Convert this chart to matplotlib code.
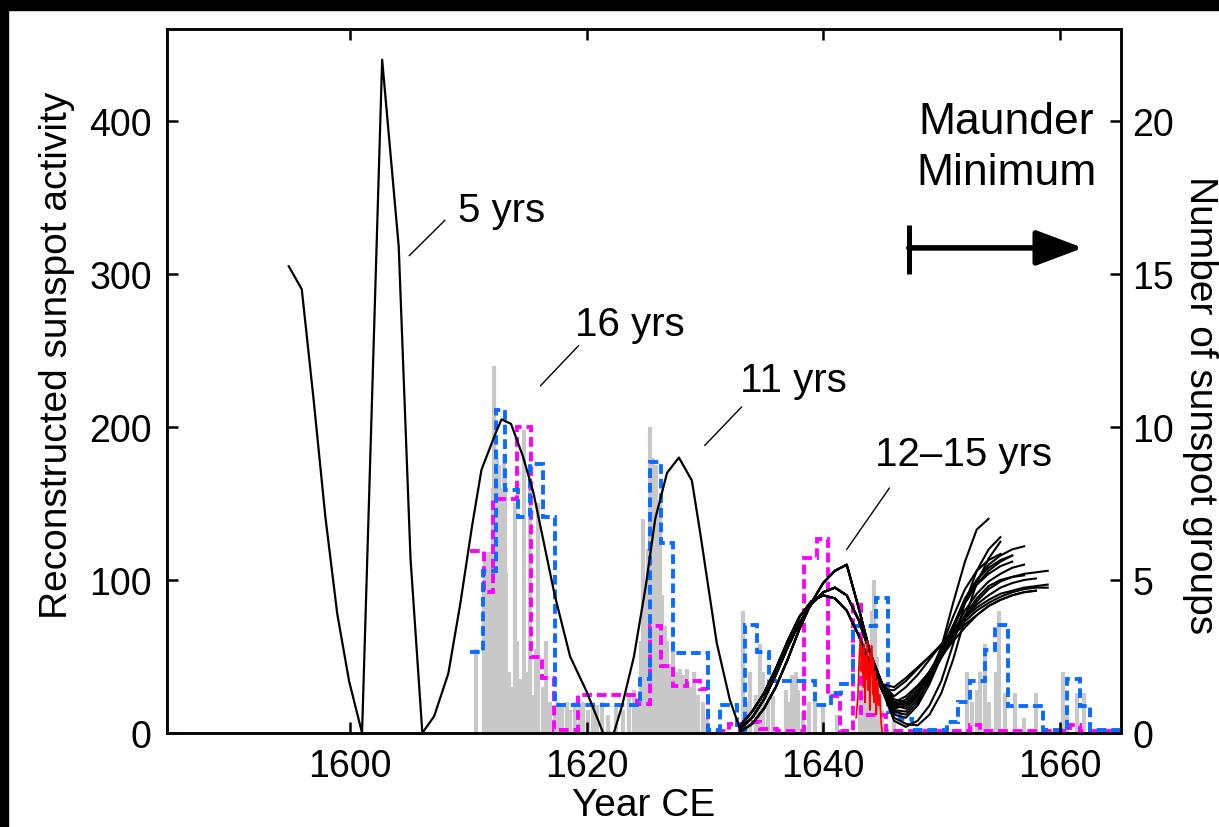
import numpy as np
import matplotlib.pyplot as plt
from matplotlib.patches import Rectangle

plt.rcParams['font.family'] = ['Liberation Sans', 'DejaVu Sans']

# reconstructed sunspot activity (single curve up to 1633)
rec_years = [1594.8, 1595.9, 1596.9, 1597.9, 1598.9, 1599.9, 1601.0, 1602.7, 1604.1,
             1605.1, 1606.1, 1607.1, 1608.3, 1609.3, 1610.3, 1611.1, 1612.3, 1612.8,
             1613.6, 1614.6, 1615.5, 1617.3, 1618.6, 1620.0, 1621.4, 1622.3, 1623.0,
             1624.0, 1625.0, 1625.8, 1626.8, 1627.8, 1628.9, 1629.6, 1631.0, 1632.1, 1633.0]
rec_vals = [305, 290, 218, 141, 78, 34, 0, 440, 318,
            114, 0, 11, 39, 84, 135, 172, 196, 205,
            202, 181, 157, 90, 50, 27, 0, 0, 18,
            50, 96, 140, 170, 180, 165, 131, 59, 22, 2]

# ensemble of reconstructions from 1633 (yearly values)
rise_a = [1, 6, 16, 30, 48, 68, 85, 98, 106, 110, 82, 52, 28]
rise_b = [3, 10, 22, 38, 56, 72, 84, 92, 95, 90, 74, 52, 32]
rise_c = [5, 14, 26, 42, 60, 76, 86, 90, 88, 80, 64, 45, 28]
ens_rise = [rise_a, rise_a, rise_b, rise_b, rise_c, rise_b, rise_c, rise_b,
            rise_c, rise_a, rise_b, rise_c, rise_a, rise_b, rise_c, rise_a]
ens_tail = [
    [14, 12, 20, 36, 56, 85, 112, 133, 140],
    [10, 6, 5, 12, 26, 48, 75, 98, 114, 125],
    [18, 16, 24, 38, 56, 76, 94, 106, 113, 117],
    [20, 18, 25, 38, 54, 70, 85, 97, 104, 109, 112],
    [16, 18, 26, 38, 52, 66, 80, 91, 99, 104, 108, 110],
    [22, 20, 26, 36, 49, 62, 75, 86, 94, 99, 102, 104, 105, 106],
    [18, 22, 30, 40, 52, 64, 75, 84, 90, 95, 98, 100, 101],
    [24, 30, 38, 48, 58, 67, 75, 82, 87, 91, 93, 95, 96, 97],
    [20, 24, 31, 40, 50, 60, 69, 77, 83, 87, 90, 92, 93],
    [12, 10, 18, 32, 50, 70, 88, 100, 108, 113, 116],
    [19, 19, 26, 37, 50, 64, 77, 88, 96, 100, 102, 103],
    [28, 34, 42, 50, 58, 66, 73, 80, 85, 89, 92, 94, 95, 95],
    [15, 14, 22, 34, 50, 68, 86, 100, 110, 116, 120, 122],
    [30, 36, 43, 50, 57, 64, 71, 77, 83, 87, 90, 92, 93],
    [17, 20, 28, 40, 54, 70, 85, 97, 106, 112, 116],
    [8, 4, 8, 18, 34, 58, 85, 106, 120, 128],
]

# telescopic record, 1643-1645
red_years = [1642.8, 1642.95, 1643.05, 1643.15, 1643.25, 1643.3, 1643.4, 1643.45, 1643.5,
             1643.55, 1643.6, 1643.7, 1643.75, 1643.8, 1643.9, 1643.95, 1644.0, 1644.05,
             1644.1, 1644.2, 1644.25, 1644.3, 1644.4, 1644.45, 1644.5, 1644.6, 1644.7,
             1644.8, 1644.9, 1645.0]
red_vals = [10, 25, 48, 62, 40, 55, 30, 58, 45, 20, 50, 35, 60, 28, 45, 15, 52, 38,
            57, 25, 48, 20, 40, 30, 12, 35, 18, 25, 8, 0]

# daily group counts (grey)
gray_years = [1610.6, 1611.3, 1611.4, 1611.5, 1611.6, 1611.7, 1611.8, 1611.9, 1612.0, 1612.1,
              1612.2, 1612.3, 1612.4, 1612.5, 1612.6, 1612.7, 1612.8, 1612.9, 1613.0, 1613.1,
              1613.2, 1613.4, 1613.7, 1613.9, 1614.1, 1614.4, 1614.7, 1614.9, 1615.2, 1615.5,
              1615.7, 1615.9, 1616.3, 1616.6, 1616.9, 1617.3, 1617.6, 1617.9, 1618.3, 1618.6,
              1619.0, 1619.4, 1619.7, 1620.1, 1620.5, 1620.9, 1621.3, 1621.8, 1622.5, 1623.1,
              1623.6, 1624.0, 1624.3, 1624.6, 1624.8, 1625.0, 1625.2, 1625.4, 1625.5, 1625.6,
              1625.8, 1625.9, 1626.1, 1626.2, 1626.4, 1626.6, 1626.8, 1627.0, 1627.3, 1627.6,
              1627.9, 1628.2, 1628.5, 1628.8, 1629.1, 1629.4, 1629.8, 1630.2, 1633.2, 1633.5,
              1633.8, 1634.3, 1634.7, 1634.9, 1635.3, 1635.8, 1636.9, 1637.1, 1637.4, 1637.7,
              1637.9, 1638.3, 1638.8, 1639.3, 1640.0, 1641.2, 1643.1, 1643.3, 1643.5, 1643.7,
              1643.9, 1644.1, 1644.3, 1644.4, 1644.6, 1644.8, 1645.0, 1646.0, 1652.2, 1652.6,
              1653.0, 1653.3, 1653.7, 1654.0, 1654.6, 1654.9, 1655.4, 1656.2, 1657.0, 1658.0,
              1660.3, 1660.6, 1661.5, 1662.1]
gray_groups = [2.75, 4.75, 5.9, 4.9, 5.0, 5.9, 4.75, 5.0, 5.5, 8.0,
               12.0, 8.25, 9.0, 8.0, 8.75, 8.0, 5.75, 5.0, 9.1, 8.5,
               5.25, 2.0, 1.5, 7.5, 3.0, 1.75, 9.9, 2.0, 8.0, 1.25,
               2.75, 7.5, 1.5, 3.0, 1.0, 0.9, 1.0, 0.9, 1.0, 0.75,
               1.0, 0.9, 1.0, 0.75, 1.0, 0.9, 1.0, 0.6, 0.9, 0.75,
               1.25, 1.4, 1.0, 3.0, 7.0, 5.0, 6.0, 10.0, 8.0, 9.0,
               7.5, 8.75, 6.5, 7.5, 4.5, 3.5, 3.0, 2.25, 3.0, 2.0,
               2.1, 1.9, 2.1, 1.5, 2.0, 1.25, 1.0, 0.5, 4.0, 1.0,
               2.0, 1.25, 2.9, 2.0, 1.5, 1.2, 1.4, 1.0, 1.9, 2.0,
               1.4, 0.7, 1.0, 1.0, 0.9, 0.6, 1.25, 2.0, 3.0, 2.25,
               2.75, 4.0, 5.0, 3.5, 2.5, 1.5, 0.75, 0.4, 2.0, 1.0,
               1.4, 2.0, 2.9, 1.0, 2.0, 4.0, 1.3, 1.3, 0.5, 1.3,
               2.0, 0.75, 1.3, 1.3]

# yearly group numbers (blue) and (magenta), step edges
blue_edges = [1610.1, 1611.2, 1612.3, 1613.1, 1614.2, 1615.2, 1616.3, 1617.3, 1624.5, 1625.4,
              1626.3, 1627.3, 1630.3, 1631.3, 1632.7, 1633.4, 1634.4, 1635.4, 1639.3, 1640.7,
              1641.5, 1642.5, 1644.5, 1645.5, 1646.5, 1647.5, 1650.5, 1651.4, 1652.4, 1653.7,
              1654.5, 1655.6, 1658.6, 1660.6, 1661.7, 1662.6, 1665.2]
blue_vals = [2.65, 5.3, 10.55, 7.95, 7.05, 8.8, 7.05, 0.9, 1.76, 8.86,
             6.2, 2.6, 0.1, 0.9, 0.1, 3.53, 2.65, 1.7, 0.9, 1.3,
             1.6, 3.5, 4.4, 0.68, 0.45, 0.1, 0.36, 1.0, 1.7, 2.7,
             3.53, 0.88, 0.1, 1.76, 0.88, 0.1]

mag_edges = [1610.1, 1611.3, 1612.1, 1614.1, 1615.3, 1616.2, 1617.2, 1619.3, 1624.3, 1625.4,
             1626.3, 1627.3, 1628.5, 1629.6, 1630.3, 1632.0, 1633.0, 1633.3, 1634.7, 1636.1,
             1638.4, 1639.5, 1640.4, 1641.4, 1642.5, 1643.2, 1645.3, 1652.4, 1653.3, 1660.9,
             1661.7, 1665.2]
mag_vals = [5.96, 4.6, 7.65, 10.0, 2.5, 1.8, 0.1, 1.24, 0.95, 3.5,
            2.2, 1.55, 1.7, 1.44, 0.05, 0.3, 0.05, 0.36, 0.13, 0.05,
            5.72, 6.34, 1.22, 0.05, 4.18, 0.6, 0.05, 0.25, 0.05, 0.25,
            0.05]

fig = plt.figure(figsize=(12.19, 8.28), dpi=100)
ax = fig.add_axes([0.137, 0.1135, 0.7826, 0.8502])
ax2 = ax.twinx()
ax.set_zorder(ax2.get_zorder() + 1)
ax.patch.set_visible(False)

# right axis: grey bars + dashed step series
ax2.vlines(gray_years, 0, gray_groups, color='#c8c8c8', lw=3.0, zorder=1)
ax2.stairs(mag_vals, mag_edges, baseline=None, color='#ff00ff', lw=2.8,
           ls=(0, (2.5, 1.25)), zorder=3)
ax2.stairs(blue_vals, blue_edges, baseline=None, color='#0a6cff', lw=2.8,
           ls=(0, (2.5, 1.25)), zorder=4)

# left axis: reconstructions
ax.plot(rec_years, rec_vals, color='k', lw=1.6)
for r, t in zip(ens_rise, ens_tail):
    vals = r + t
    ax.plot(np.arange(1633, 1633 + len(vals)), vals, color='k', lw=1.5)
ax.plot(red_years, red_vals, color='red', lw=1.2)

ax.set_xlim(1584.5, 1665.2)
ax.set_ylim(0, 460)
ax2.set_ylim(0, 23)
ax.set_xticks([1600, 1620, 1640, 1660])
ax.set_yticks([0, 100, 200, 300, 400])
ax2.set_yticks([0, 5, 10, 15, 20])

ax.tick_params(direction='in', length=8, width=1.8, labelsize=27, pad=11, top=True)
ax2.tick_params(direction='in', length=8, width=1.8, labelsize=27, pad=8)
for a in (ax, ax2):
    for s in a.spines.values():
        s.set_linewidth(1.8)

ax.set_xlabel('Year CE', fontsize=28, labelpad=2)
ax.set_ylabel('Reconstructed sunspot activity', fontsize=28, va='center')
ax.yaxis.set_label_coords(-0.115, 0.538)
ax2.set_ylabel('Number of sunspot groups', fontsize=28, rotation=270, va='center')
ax2.yaxis.set_label_coords(1.083, 0.467)

# period annotations
ax.plot([1605.0, 1608.0], [312, 335], color='k', lw=1)
ax.text(1609.1, 342, '5 yrs', fontsize=29, va='center')
ax.plot([1616.1, 1619.3], [227, 253], color='k', lw=1)
ax.text(1619.0, 267, '16 yrs', fontsize=29, va='center')
ax.plot([1630.0, 1633.1], [188, 213], color='k', lw=1)
ax.text(1633.0, 231, '11 yrs', fontsize=29, va='center')
ax.plot([1642.0, 1645.6], [120, 160], color='k', lw=1)
ax.text(1644.4, 182, '12\u201315 yrs', fontsize=29, va='center')

ax.text(1655.5, 383, 'Maunder\nMinimum', fontsize=32, ha='center', va='center', linespacing=1.3)
ax.plot([1647.25, 1647.25], [300, 332], color='k', lw=3.6, solid_capstyle='butt')
ax.annotate('', xy=(1662.0, 317), xytext=(1647.25, 317),
            arrowprops=dict(arrowstyle='-|>,head_length=0.8,head_width=0.3',
                            mutation_scale=36, lw=4, color='k', shrinkA=0, shrinkB=0))

# black frame at top and left edge
fig.patches.append(Rectangle((0, 1 - 11 / 828), 1, 11 / 828, transform=fig.transFigure,
                             color='k', zorder=10))
fig.patches.append(Rectangle((0, 0), 8 / 1219, 1, transform=fig.transFigure,
                             color='k', zorder=10))

fig.savefig('out.png', dpi=100)
